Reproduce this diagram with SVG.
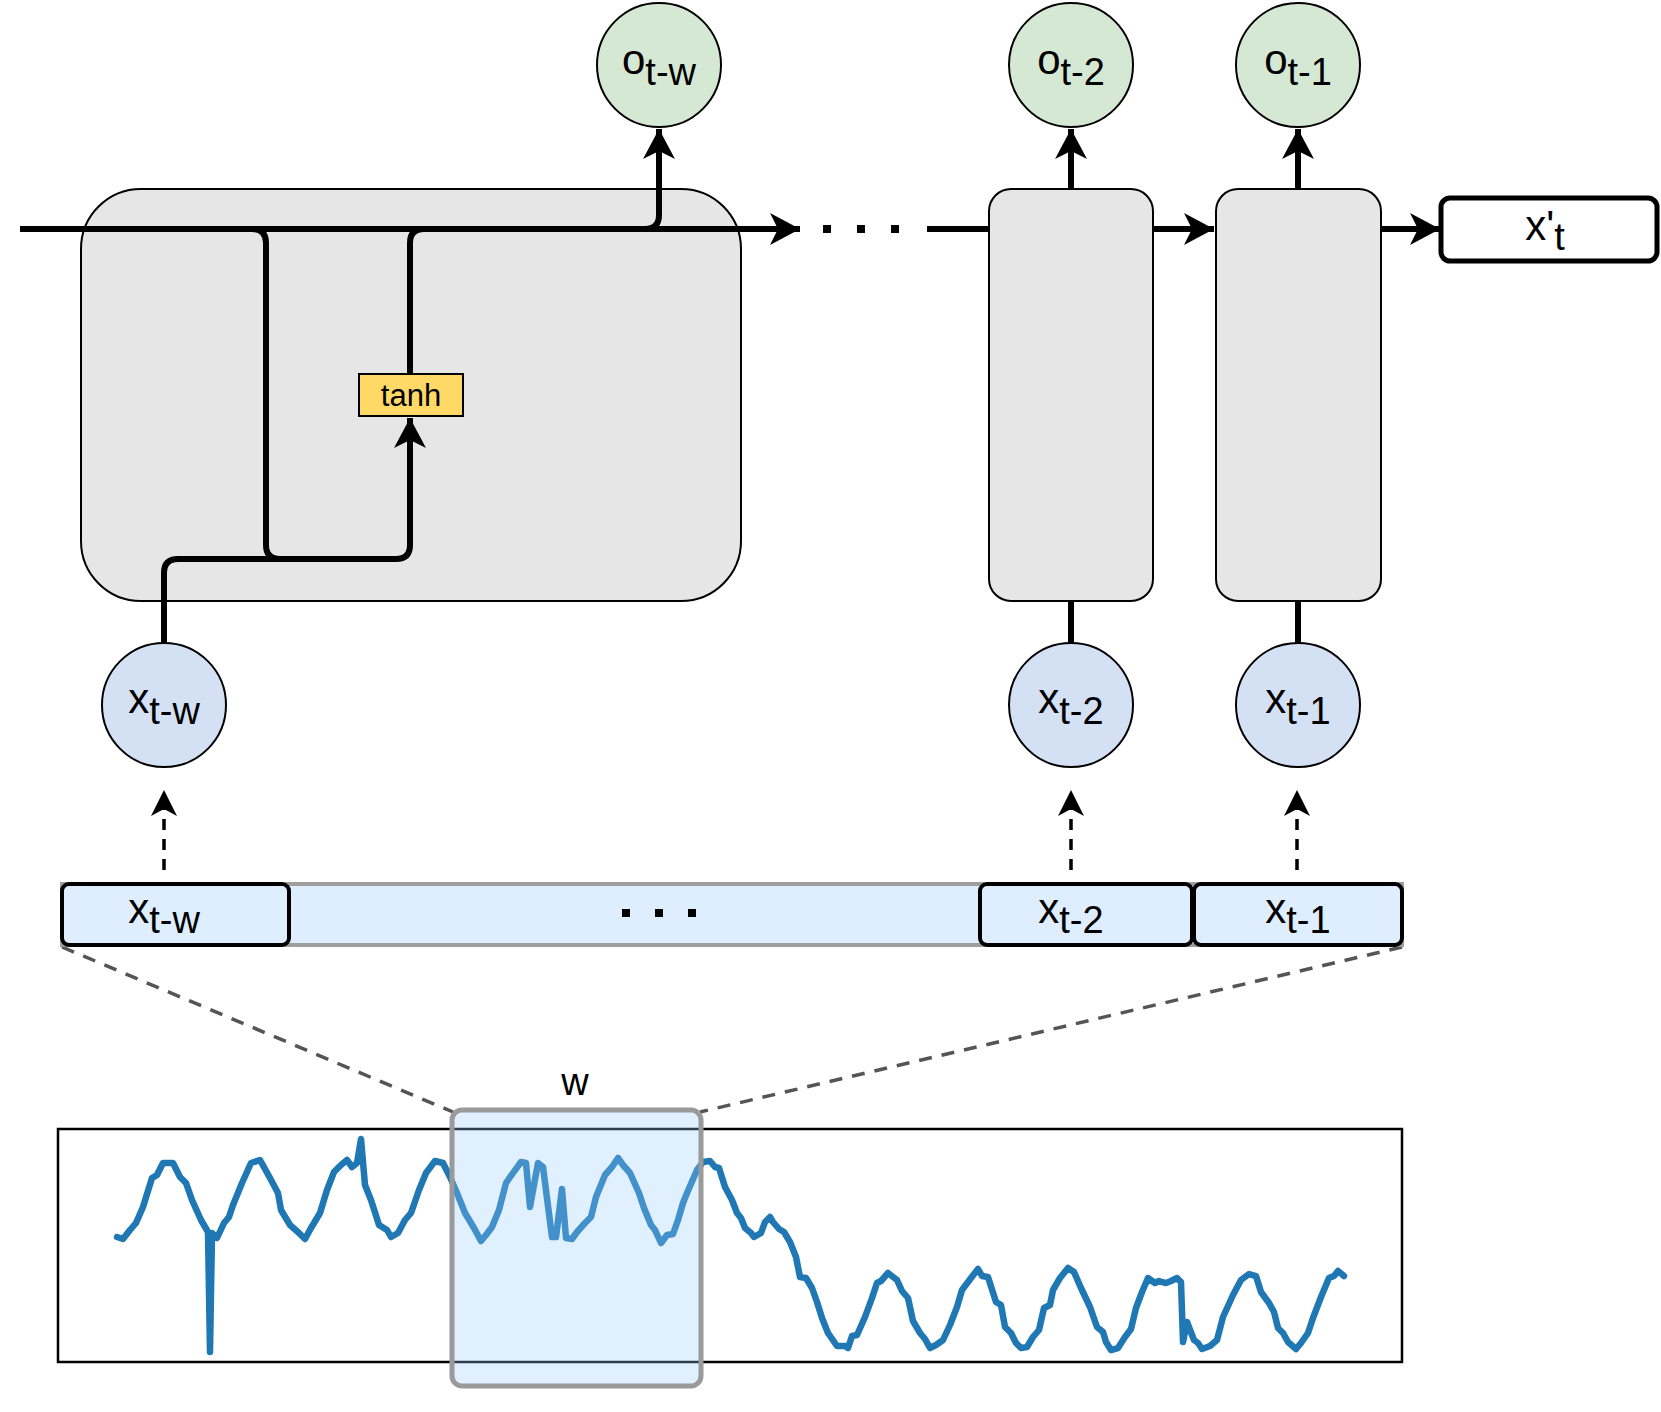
<svg xmlns="http://www.w3.org/2000/svg" width="1661" height="1412" viewBox="0 0 1661 1412">
<style>
text{font-family:"Liberation Sans",Arial,sans-serif;fill:#000}
.lbl{font-size:42px;text-anchor:middle}
.sub{font-size:38px}
.cell{fill:#e6e6e6;stroke:#000;stroke-width:2}
.out{fill:#d5e8d4;stroke:#000;stroke-width:2}
.inp{fill:#d4e1f5;stroke:#000;stroke-width:2}
.wire{fill:none;stroke:#000;stroke-width:6;stroke-linejoin:round}
.dash{fill:none;stroke:#000;stroke-width:3.5;stroke-dasharray:11 9}
.gdash{fill:none;stroke:#555;stroke-width:3.5;stroke-dasharray:13 10}
.box{fill:#deeeff;stroke:#000;stroke-width:4}
</style>
<defs>
<marker id="ah" markerUnits="userSpaceOnUse" markerWidth="32" markerHeight="34" viewBox="0 0 32 34" refX="30" refY="17" orient="auto">
<path d="M30,17 L0,1 L8,17 L0,33 Z" fill="#000"/>
</marker>
<marker id="ahs" markerUnits="userSpaceOnUse" markerWidth="28" markerHeight="28" viewBox="0 0 28 28" refX="26" refY="13" orient="auto">
<path d="M26,13 L0,0 L7,13 L0,26 Z" fill="#000"/>
</marker>
</defs>

<g id="cell-t-w"><rect class="cell" x="81" y="189" width="660" height="412" rx="60"/></g>
<g id="cell-t-2"><rect class="cell" x="989" y="189" width="164" height="412" rx="22"/></g>
<g id="cell-t-1"><rect class="cell" x="1216" y="189" width="165" height="412" rx="22"/></g>

<g id="connectors">
<path class="wire" d="M20,229 H800" marker-end="url(#ah)"/>
<path class="wire" d="M20,229 H252 Q266,229 266,243 V545 Q266,559 280,559 H300"/>
<path class="wire" d="M164,643 V573 Q164,559 178,559 H396 Q410,559 410,545 V418" marker-end="url(#ah)"/>
<path class="wire" d="M410,374 V243 Q410,229 424,229 H645 Q659,229 659,215 V129" marker-end="url(#ah)"/>
<path d="M823,229 H900" fill="none" stroke="#000" stroke-width="8" stroke-dasharray="8 26"/>
<path class="wire" d="M927,229 H989"/>
<path class="wire" d="M1153,229 H1214" marker-end="url(#ah)"/>
<path class="wire" d="M1381,229 H1440" marker-end="url(#ah)"/>
<path class="wire" d="M1071,189 V129" marker-end="url(#ah)"/>
<path class="wire" d="M1298,189 V129" marker-end="url(#ah)"/>
<path class="wire" d="M1071,643 V601"/>
<path class="wire" d="M1298,643 V601"/>
<path class="dash" d="M164,870 V790" marker-end="url(#ahs)"/>
<path class="dash" d="M1071,870 V790" marker-end="url(#ahs)"/>
<path class="dash" d="M1297,870 V790" marker-end="url(#ahs)"/>
<path class="gdash" d="M62,947 L453,1112"/>
<path class="gdash" d="M1402,947 L700,1112"/>
</g>

<g id="tanh"><rect x="359" y="374" width="104" height="42" fill="#ffd966" stroke="#000" stroke-width="2"/>
<text x="411" y="406" font-size="31" text-anchor="middle">tanh</text></g>

<g id="o-t-w"><circle class="out" cx="659" cy="65" r="62"/><text class="lbl" x="659" y="74">o<tspan class="sub" dy="11">t-w</tspan></text></g>
<g id="o-t-2"><circle class="out" cx="1071" cy="65" r="62"/><text class="lbl" x="1071" y="74">o<tspan class="sub" dy="11">t-2</tspan></text></g>
<g id="o-t-1"><circle class="out" cx="1298" cy="65" r="62"/><text class="lbl" x="1298" y="74">o<tspan class="sub" dy="11">t-1</tspan></text></g>

<g id="x-t-w"><circle class="inp" cx="164" cy="705" r="62"/><text class="lbl" x="164" y="713">x<tspan class="sub" dy="11">t-w</tspan></text></g>
<g id="x-t-2"><circle class="inp" cx="1071" cy="705" r="62"/><text class="lbl" x="1071" y="713">x<tspan class="sub" dy="11">t-2</tspan></text></g>
<g id="x-t-1"><circle class="inp" cx="1298" cy="705" r="62"/><text class="lbl" x="1298" y="713">x<tspan class="sub" dy="11">t-1</tspan></text></g>

<g id="x-prime-t"><rect x="1441" y="198" width="216" height="63" rx="9" fill="#fff" stroke="#000" stroke-width="5"/>
<text class="lbl" x="1545" y="240">x'<tspan class="sub" dy="10">t</tspan></text></g>

<g id="window-bar">
<rect x="62" y="884" width="1340" height="61" fill="#deeeff" stroke="#9e9e9e" stroke-width="4"/>
<path d="M622,913 H700" fill="none" stroke="#000" stroke-width="8" stroke-dasharray="8 25"/>
</g>
<g id="bar-x-t-w"><rect class="box" x="62" y="884" width="227" height="61" rx="7"/><text class="lbl" x="164" y="923">x<tspan class="sub" dy="10">t-w</tspan></text></g>
<g id="bar-x-t-2"><rect class="box" x="980" y="884" width="212" height="61" rx="7"/><text class="lbl" x="1071" y="923">x<tspan class="sub" dy="10">t-2</tspan></text></g>
<g id="bar-x-t-1"><rect class="box" x="1194" y="884" width="208" height="61" rx="7"/><text class="lbl" x="1298" y="923">x<tspan class="sub" dy="10">t-1</tspan></text></g>

<g id="chart">
<rect x="58" y="1129" width="1344" height="233" fill="none" stroke="#000" stroke-width="2.5"/>
<polyline fill="none" stroke="#1f77b4" stroke-width="6.5" stroke-linejoin="round" stroke-linecap="round" points="117,1237 123,1239 130,1230 136,1223 143,1207 152,1178 157,1175 163,1163 173,1163 180,1177 186,1183 192,1200 201,1220 208,1232 210,1352 212,1233 217,1238 224,1223 229,1217 233,1205 242,1183 251,1163 260,1160 270,1178 278,1193 281,1210 290,1225 299,1233 305,1239 311,1228 320,1213 327,1190 334,1172 341,1165 347,1160 352,1167 357,1163 361,1139 365,1185 371,1200 379,1225 387,1230 391,1237 398,1233 405,1220 411,1213 419,1190 426,1173 435,1161 443,1163 450,1177 457,1193 465,1213 474,1228 481,1241 486,1235 492,1227 499,1210 506,1183 513,1173 521,1162 526,1163 530,1207 538,1163 543,1167 552,1237 556,1237 562,1189 566,1238 572,1239 577,1232 585,1223 591,1217 596,1197 605,1175 612,1167 618,1158 623,1165 630,1173 639,1193 644,1208 651,1225 655,1230 661,1243 667,1235 673,1234 678,1220 683,1203 687,1193 697,1170 703,1162 710,1161 715,1167 719,1168 725,1187 732,1200 737,1213 741,1218 745,1228 751,1233 754,1237 761,1233 765,1222 770,1217 773,1222 779,1229 784,1232 790,1242 796,1257 800,1277 806,1278 812,1288 817,1302 822,1318 828,1333 837,1346 845,1346 848,1348 852,1336 857,1335 865,1317 872,1298 877,1283 881,1281 888,1273 897,1280 902,1291 908,1298 913,1321 920,1333 925,1339 930,1348 936,1345 943,1340 950,1325 957,1307 962,1290 971,1278 978,1269 982,1276 988,1277 996,1302 1001,1305 1005,1327 1011,1333 1016,1343 1021,1348 1027,1347 1033,1337 1039,1330 1044,1308 1050,1305 1053,1290 1060,1278 1068,1268 1074,1272 1081,1288 1090,1307 1097,1327 1103,1332 1106,1342 1111,1350 1118,1348 1125,1337 1131,1329 1136,1308 1142,1292 1148,1278 1155,1283 1159,1281 1166,1283 1171,1281 1177,1278 1181,1282 1183,1342 1187,1322 1194,1340 1198,1343 1202,1349 1210,1346 1217,1340 1223,1317 1233,1295 1241,1280 1249,1274 1256,1276 1261,1292 1269,1303 1274,1312 1278,1328 1283,1333 1288,1342 1296,1349 1301,1343 1308,1333 1313,1318 1321,1297 1329,1278 1334,1276 1338,1271 1344,1276"/>
</g>
<g id="window">
<rect x="452" y="1110" width="249" height="276" rx="10" fill="#99ccff" fill-opacity="0.3" stroke="#9a9a9a" stroke-width="5"/>
<text x="575" y="1095" font-size="38" text-anchor="middle">w</text>
</g>
</svg>
